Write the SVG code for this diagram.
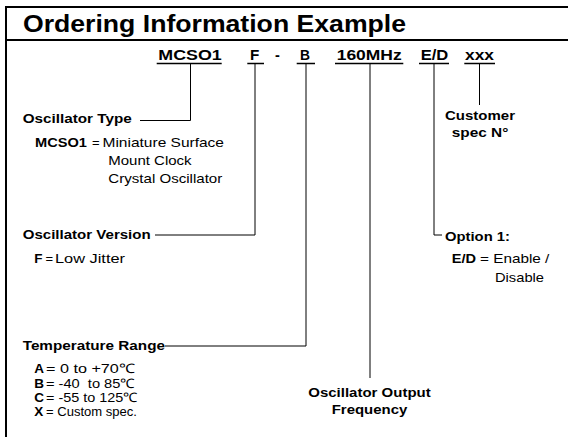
<svg xmlns="http://www.w3.org/2000/svg" width="568" height="437" viewBox="0 0 568 437">
<style>
text{font-family:"Liberation Sans",Arial,Helvetica,sans-serif;fill:#000;white-space:pre}
.b{font-weight:bold;font-size:13.5px}
.r{font-size:13px}
.c{font-weight:bold;font-size:14.5px}
.t{font-weight:bold;font-size:24px}
.m{text-anchor:middle}
.ln{fill:none;stroke:#000;stroke-width:1}
.ul{stroke:#000;stroke-width:1.3}
.fr{stroke:#000;stroke-width:2;fill:none}
</style>
<rect x="0" y="0" width="568" height="437" fill="#fff"/>
<g id="frame">
<path class="fr" d="M6 437 V7 H568 M6 40 H568"/>
<text class="t" x="23" y="32" textLength="383" lengthAdjust="spacingAndGlyphs">Ordering Information Example</text>
</g>
<g id="code">
<text class="c" x="158.3" y="59.5" textLength="63.4" lengthAdjust="spacingAndGlyphs">MCSO1</text>
<text class="c" x="250" y="59.5" textLength="9.3" lengthAdjust="spacingAndGlyphs">F</text>
<text class="c" x="275" y="59.5">-</text>
<text class="c" x="300" y="59.5" textLength="10" lengthAdjust="spacingAndGlyphs">B</text>
<text class="c" x="336.7" y="59.5" textLength="65" lengthAdjust="spacingAndGlyphs">160MHz</text>
<text class="c" x="420.7" y="59.5" textLength="27.6" lengthAdjust="spacingAndGlyphs">E/D</text>
<text class="c" x="465" y="59.5" textLength="29" lengthAdjust="spacingAndGlyphs">xxx</text>
<path class="ul" d="M156.7 63.5 H221.7 M247.3 63.5 H264 M296.7 63.5 H315 M335 63.5 H403.3 M419 63.5 H449 M464.3 63.5 H495"/>
</g>
<g id="connectors">
<path class="ln" d="M140 120.5 H190.5 V64"/>
<path class="ln" d="M155 235 H255 V64"/>
<path class="ln" d="M165 346 H306 V64"/>
<path class="ln" d="M370 64 V378"/>
<path class="ln" d="M434 64 V235 H442"/>
<path class="ln" d="M479.5 64 V105"/>
</g>
<g id="oscillator-type">
<text class="b" x="22.7" y="123.3" textLength="109" lengthAdjust="spacingAndGlyphs">Oscillator Type</text>
<text class="b" x="35" y="146.7" textLength="52" lengthAdjust="spacingAndGlyphs">MCSO1</text>
<text class="r" x="92" y="146.7">=</text>
<text class="r" x="102.5" y="146.7" textLength="121.5" lengthAdjust="spacingAndGlyphs">Miniature Surface</text>
<text class="r" x="108.3" y="165" textLength="83.3" lengthAdjust="spacingAndGlyphs">Mount Clock</text>
<text class="r" x="108.3" y="183.3" textLength="114" lengthAdjust="spacingAndGlyphs">Crystal Oscillator</text>
</g>
<g id="oscillator-version">
<text class="b" x="22.7" y="239.3" textLength="128" lengthAdjust="spacingAndGlyphs">Oscillator Version</text>
<text class="b" x="34.3" y="263.3">F</text>
<text class="r" x="45.5" y="263.3">=</text>
<text class="r" x="55" y="263.3" textLength="70" lengthAdjust="spacingAndGlyphs">Low Jitter</text>
</g>
<g id="temperature-range">
<text class="b" x="22.7" y="350" textLength="142.3" lengthAdjust="spacingAndGlyphs">Temperature Range</text>
<text class="b" x="34.3" y="373.3">A</text>
<text class="r" x="46" y="373.3" textLength="89" lengthAdjust="spacingAndGlyphs">= 0 to +70℃</text>
<text class="b" x="34.3" y="387.7">B</text>
<text class="r" x="46" y="387.7" textLength="89" lengthAdjust="spacingAndGlyphs">= -40  to 85℃</text>
<text class="b" x="34.3" y="401.7">C</text>
<text class="r" x="46" y="401.7" textLength="91.7" lengthAdjust="spacingAndGlyphs">= -55 to 125℃</text>
<text class="b" x="34.3" y="415.7">X</text>
<text class="r" x="46" y="415.7" textLength="91" lengthAdjust="spacingAndGlyphs">= Custom spec.</text>
</g>
<g id="output-frequency">
<text class="b m" x="369.5" y="396.7" textLength="122.4" lengthAdjust="spacingAndGlyphs">Oscillator Output</text>
<text class="b m" x="369.5" y="414" textLength="75.6" lengthAdjust="spacingAndGlyphs">Frequency</text>
</g>
<g id="customer-spec">
<text class="b" x="445" y="120" textLength="70" lengthAdjust="spacingAndGlyphs">Customer</text>
<text class="b" x="451.7" y="137.3" textLength="56.6" lengthAdjust="spacingAndGlyphs">spec N°</text>
</g>
<g id="option-1">
<text class="b" x="445" y="240.7" textLength="65" lengthAdjust="spacingAndGlyphs">Option 1:</text>
<text class="b" x="451.7" y="262.7" textLength="24.3" lengthAdjust="spacingAndGlyphs">E/D</text>
<text class="r" x="480" y="262.7" textLength="69.3" lengthAdjust="spacingAndGlyphs">= Enable /</text>
<text class="r" x="495" y="281.7" textLength="49" lengthAdjust="spacingAndGlyphs">Disable</text>
</g>
</svg>
